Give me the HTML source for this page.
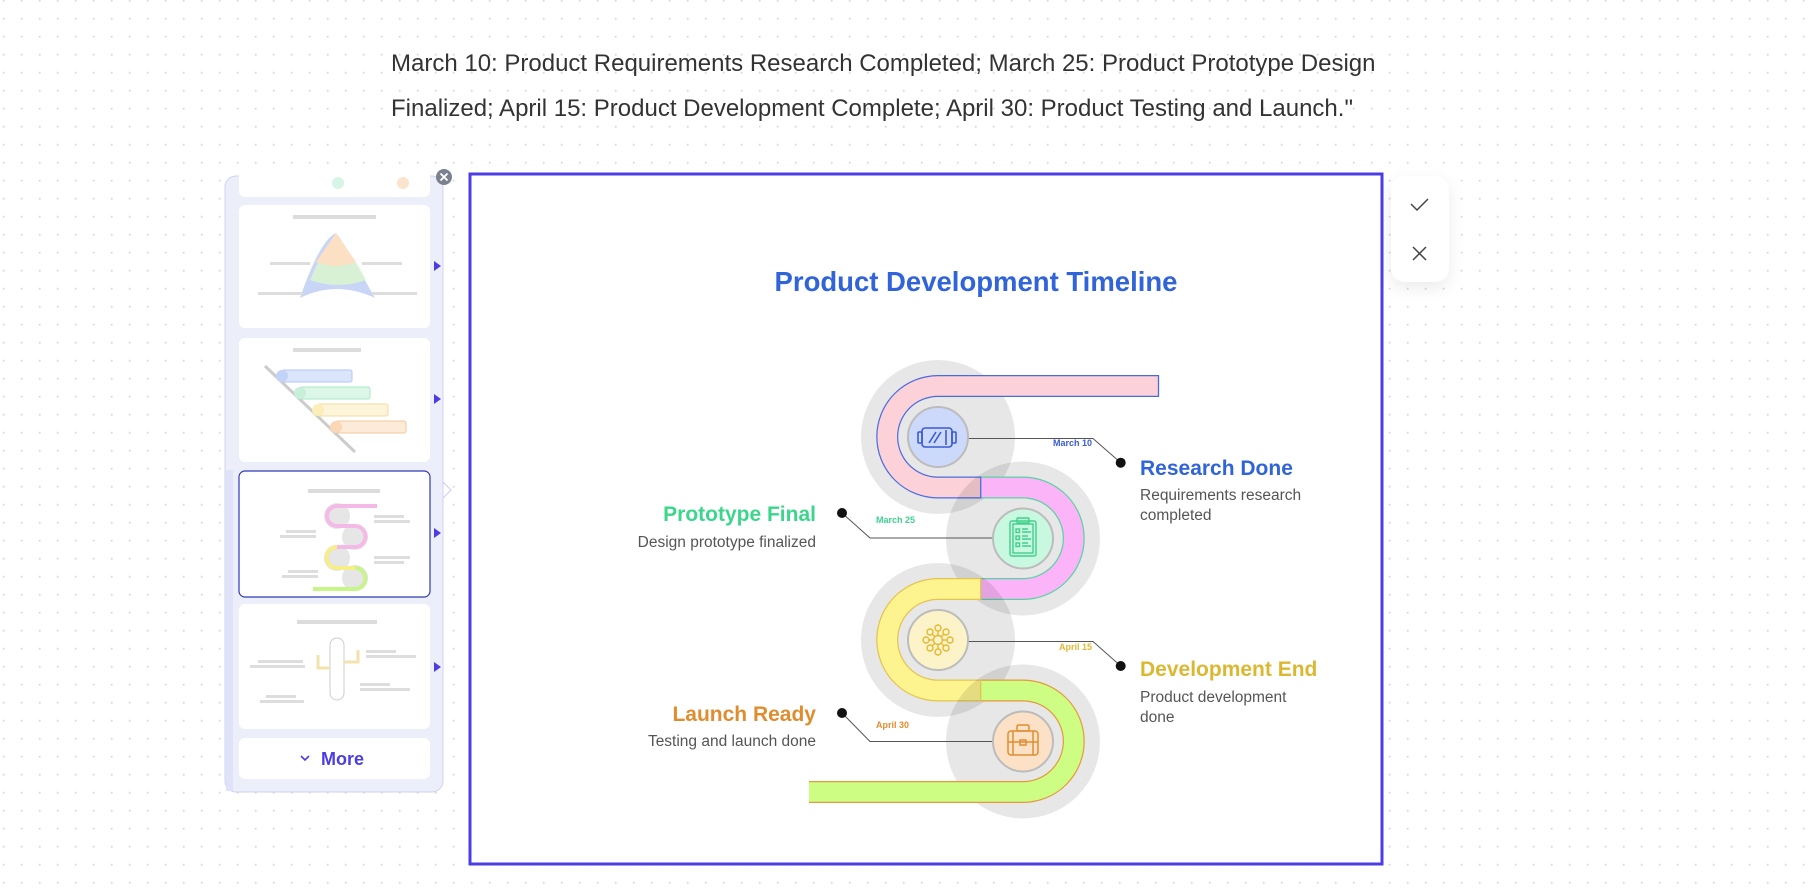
<!DOCTYPE html>
<html><head><meta charset="utf-8">
<style>
html,body{margin:0;padding:0;width:1813px;height:890px;overflow:hidden;background:#fff;font-family:"Liberation Sans",sans-serif;}
.abs{position:absolute;}
</style></head>
<body>
<svg class="abs" style="left:0;top:0" width="1813" height="890" viewBox="0 0 1813 890" xmlns="http://www.w3.org/2000/svg">
<defs>
<pattern id="dots" x="2.7" y="17.7" width="18" height="18" patternUnits="userSpaceOnUse">
<circle cx="1" cy="1" r="1" fill="#d6d6d6"/>
</pattern>
<filter id="sh" x="-50%" y="-50%" width="200%" height="200%"><feDropShadow dx="0" dy="6" stdDeviation="8" flood-color="#000" flood-opacity="0.08"/></filter>
</defs>
<rect width="1813" height="890" fill="url(#dots)"/>

<!-- top text -->
<text x="391" y="71" font-size="24" fill="#333" font-family="Liberation Sans, sans-serif">March 10: Product Requirements Research Completed; March 25: Product Prototype Design</text>
<text x="391" y="116" font-size="24" fill="#333" font-family="Liberation Sans, sans-serif">Finalized; April 15: Product Development Complete; April 30: Product Testing and Launch."</text>

<!-- sidebar -->
<rect x="225" y="176" width="218" height="616" rx="11" fill="#eceefa" stroke="#cfd3f3" stroke-width="1"/>
<rect x="226" y="470" width="7" height="321" fill="#dfe2f8"/>
<rect x="239" y="170" width="191" height="27" rx="6" fill="#fff"/>
<circle cx="338" cy="183" r="6" fill="#d6f5e6"/><circle cx="403" cy="183" r="6" fill="#fbe3cc"/>
<rect x="239" y="205" width="191" height="123" rx="6" fill="#fff"/>
<rect x="293" y="215" width="83" height="4" fill="#dcdcdc"/>
<path d="M300,298 Q336,280 375,298 Q340,236 336,233 Q320,240 300,298Z" fill="#c9d5f7"/>
<path d="M316,262 L336,233 L356,262 Q336,270 316,262Z" fill="#fbe0c4"/>
<path d="M310,280 L318,262 Q336,270 356,262 L366,280 Q338,290 310,280Z" fill="#d9f3cf" opacity=".9"/>
<rect x="270" y="262" width="40" height="3" fill="#ddd"/><rect x="258" y="292" width="45" height="3" fill="#ddd"/>
<rect x="362" y="262" width="40" height="3" fill="#ddd"/><rect x="372" y="292" width="45" height="3" fill="#ddd"/>
<rect x="239" y="338" width="191" height="124" rx="6" fill="#fff"/>
<rect x="293" y="348" width="68" height="4" fill="#dcdcdc"/>
<line x1="265" y1="366" x2="355" y2="452" stroke="#ccc" stroke-width="3"/>
<rect x="282" y="370" width="70" height="12" rx="2" fill="#dce6fb" stroke="#b6c6f3"/>
<rect x="300" y="387" width="70" height="12" rx="2" fill="#dcf7e8" stroke="#a9e8c6"/>
<rect x="318" y="404" width="70" height="12" rx="2" fill="#fdf5d9" stroke="#f2dc9a"/>
<rect x="336" y="421" width="70" height="12" rx="2" fill="#fdebd9" stroke="#f3c79b"/>
<circle cx="282" cy="376" r="6" fill="#c3d2f7"/><circle cx="300" cy="393" r="6" fill="#c7f0da"/><circle cx="318" cy="410" r="6" fill="#fbeeb8"/><circle cx="336" cy="427" r="6" fill="#fad7b5"/>
<rect x="239" y="471" width="191" height="126" rx="6" fill="#fff" stroke="#2f3bb5" stroke-width="1.2"/>
<rect x="308" y="489" width="72" height="4" fill="#dcdcdc"/>
<circle cx="337" cy="516" r="13" fill="#e6e6e6"/><circle cx="355" cy="537" r="13" fill="#e6e6e6"/><circle cx="337" cy="558" r="13" fill="#e6e6e6"/><circle cx="355" cy="578" r="13" fill="#e6e6e6"/>
<path d="M377,506 H337 A10,10 0 0 0 337,526 H355 A10,10 0 0 1 355,547 H337 A10,10 0 0 0 337,568 H355 A10,10 0 0 1 355,589 H313" fill="none" stroke="#f4b9e6" stroke-width="4"/>
<path d="M337,547 A10,10 0 0 0 337,568 H355" fill="none" stroke="#f6ee86" stroke-width="4"/>
<path d="M355,568 A10,10 0 0 1 355,589 H313" fill="none" stroke="#c8f58a" stroke-width="4"/>
<rect x="286" y="530" width="30" height="3" fill="#ddd"/><rect x="280" y="535" width="36" height="3" fill="#ddd"/>
<rect x="374" y="515" width="30" height="3" fill="#ddd"/><rect x="374" y="520" width="36" height="3" fill="#ddd"/>
<rect x="288" y="570" width="30" height="3" fill="#ddd"/><rect x="282" y="575" width="36" height="3" fill="#ddd"/>
<rect x="374" y="556" width="36" height="3" fill="#ddd"/><rect x="374" y="561" width="30" height="3" fill="#ddd"/>
<rect x="239" y="604" width="191" height="125" rx="6" fill="#fff"/>
<rect x="297" y="620" width="80" height="4" fill="#dcdcdc"/>
<rect x="330" y="638" width="14" height="62" rx="7" fill="none" stroke="#ccc"/>
<path d="M330,668 H318 V655 M344,662 H358 V650" fill="none" stroke="#f1e3ad" stroke-width="3"/>
<rect x="258" y="660" width="45" height="3" fill="#ddd"/><rect x="250" y="665" width="55" height="3" fill="#ddd"/>
<rect x="366" y="650" width="30" height="3" fill="#ddd"/><rect x="366" y="655" width="50" height="3" fill="#ddd"/>
<rect x="266" y="695" width="30" height="3" fill="#ddd"/><rect x="260" y="700" width="44" height="3" fill="#ddd"/>
<rect x="360" y="683" width="30" height="3" fill="#ddd"/><rect x="360" y="688" width="50" height="3" fill="#ddd"/>
<rect x="239" y="738" width="191" height="41" rx="6" fill="#fff"/>
<path d="M301,756 l4,4 l4,-4" fill="none" stroke="#4b3de3" stroke-width="1.6"/>
<text x="321" y="765" font-size="18" font-weight="bold" fill="#4b3de3">More</text>
<path d="M434,261 l7,5 l-7,5z M434,394 l7,5 l-7,5z M434,528 l7,5 l-7,5z M434,662 l7,5 l-7,5z" fill="#4b3de3"/>
<path d="M443,482 l8,8 l-8,8" fill="none" stroke="#c9ccf3" stroke-width="1"/>
<circle cx="444" cy="177" r="8" fill="#7c8190"/>
<path d="M440.5,173.5 l7,7 M447.5,173.5 l-7,7" stroke="#fff" stroke-width="1.8"/>

<!-- main frame -->
<rect x="470" y="174" width="912" height="690" fill="#fff" stroke="#4b3de3" stroke-width="3"/>

<!-- accept panel -->
<rect x="1391" y="176" width="58" height="106" rx="14" fill="#fff" filter="url(#sh)"/>
<path d="M1411,204 l6,6 l11,-11" fill="none" stroke="#444" stroke-width="1.5"/>
<path d="M1413,247 l13,13 M1426,247 l-13,13" stroke="#444" stroke-width="1.5"/>

<!-- title -->
<text x="976" y="291" text-anchor="middle" font-size="27.5" font-weight="bold" fill="#3064d8">Product Development Timeline</text>

<!-- serpentine -->
<circle cx="938" cy="437" r="77" fill="rgba(0,0,0,0.095)"/>
<path d="M1159,386 H938 A50.75,50.75 0 0 0 938,487.5 H980.7" fill="none" stroke="#4a6be0" stroke-width="22"/>
<path d="M1159,386 H938 A50.75,50.75 0 0 0 938,487.5 H980.7" fill="none" stroke="#fcd1d8" stroke-width="19.6"/>
<line x1="1158.5" y1="375" x2="1158.5" y2="397" stroke="#4a6be0" stroke-width="1.3"/>
<circle cx="1023" cy="538.5" r="77" fill="rgba(0,0,0,0.095)"/>
<path d="M980.7,487.5 H1023 A50.75,50.75 0 0 1 1023,589 H980.7" fill="none" stroke="#58d2a5" stroke-width="22"/>
<path d="M980.7,487.5 H1023 A50.75,50.75 0 0 1 1023,589 H980.7" fill="none" stroke="#fbb4f8" stroke-width="19.6"/>
<line x1="980.7" y1="476.5" x2="980.7" y2="498.5" stroke="#4a6be0" stroke-width="1.3"/>
<circle cx="938" cy="640" r="77" fill="rgba(0,0,0,0.095)"/>
<path d="M980.7,589 H938 A50.75,50.75 0 0 0 938,690.5 H980.7" fill="none" stroke="#e3c44f" stroke-width="22"/>
<path d="M980.7,589 H938 A50.75,50.75 0 0 0 938,690.5 H980.7" fill="none" stroke="#fdf38f" stroke-width="19.6"/>
<line x1="980.7" y1="578" x2="980.7" y2="600" stroke="#e3c44f" stroke-width="1.3"/>
<circle cx="1023" cy="741.5" r="77" fill="rgba(0,0,0,0.095)"/>
<path d="M980.7,690.5 H1023 A50.75,50.75 0 0 1 1023,792 H809" fill="none" stroke="#e49a3c" stroke-width="22"/>
<path d="M980.7,690.5 H1023 A50.75,50.75 0 0 1 1023,792 H809" fill="none" stroke="#cdfd83" stroke-width="19.6"/>
<line x1="980.7" y1="679.5" x2="980.7" y2="701.5" stroke="#e3c44f" stroke-width="1.3"/>

<!-- connectors -->
<g fill="none" stroke="#555" stroke-width="1">
<path d="M968,438.5 H1093 L1120.7,462.7"/>
<path d="M993,538 H870 L842,513"/>
<path d="M968,641.5 H1093 L1120.7,666"/>
<path d="M993,741.5 H870 L842,713"/>
</g>
<g fill="#111"><circle cx="1120.7" cy="462.7" r="5"/><circle cx="842" cy="513" r="5"/><circle cx="1120.7" cy="666" r="5"/><circle cx="842" cy="713" r="5"/></g>
<g font-size="9" font-weight="bold">
<text x="1092" y="446" text-anchor="end" fill="#3a5bd0">March 10</text>
<text x="876" y="523" fill="#3fd08f">March 25</text>
<text x="1092" y="650" text-anchor="end" fill="#e2b934">April 15</text>
<text x="876" y="728" fill="#e08d30">April 30</text>
</g>

<!-- icon circles -->
<circle cx="938" cy="437" r="30" fill="#cdd9fb" stroke="#bcbcbc" stroke-width="2"/>
<circle cx="1023" cy="538.5" r="30" fill="#c9f8e0" stroke="#bcbcbc" stroke-width="2"/>
<circle cx="938" cy="640" r="30" fill="#fdf3c9" stroke="#bcbcbc" stroke-width="2"/>
<circle cx="1023" cy="741.5" r="30" fill="#fde1c6" stroke="#bcbcbc" stroke-width="2"/>
<g fill="none" stroke="#3a5bd0" stroke-width="1.6">
<rect x="922" y="428" width="30" height="19" rx="3"/><rect x="952" y="432" width="4" height="11" rx="1"/><rect x="918" y="432" width="4" height="11" rx="1"/>
<path d="M929,443 L936,432 M934,443 L941,432 M946,430 V445"/>
</g>
<g fill="none" stroke="#3fcf8a" stroke-width="1.4">
<rect x="1010" y="521" width="26" height="35" rx="2"/><rect x="1013" y="524" width="20" height="29"/><rect x="1017" y="518" width="12" height="5" rx="1"/>
<rect x="1016" y="529" width="3.5" height="3.5"/><rect x="1016" y="536" width="3.5" height="3.5"/><rect x="1016" y="543" width="3.5" height="3.5"/>
<path d="M1022,529 H1028 M1022,532 H1031 M1022,536 H1028 M1022,539 H1031 M1022,543 H1028 M1022,546 H1031"/>
</g>
<g fill="none" stroke="#e2b934" stroke-width="1.4">
<circle cx="938" cy="640" r="4.5"/><circle cx="938" cy="628" r="3"/><circle cx="938" cy="652" r="3"/>
<circle cx="926" cy="640" r="3"/><circle cx="950" cy="640" r="3"/>
<circle cx="930" cy="632" r="3"/><circle cx="946" cy="632" r="3"/><circle cx="930" cy="648" r="3"/><circle cx="946" cy="648" r="3"/>
<path d="M938,631 V635.5 M938,644.5 V649 M929,640 H933.5 M942.5,640 H947 M932,634 L935,637 M944,634 L941,637 M932,646 L935,643 M944,646 L941,643"/>
</g>
<g fill="none" stroke="#e08d30" stroke-width="1.5">
<rect x="1008" y="731" width="30" height="24" rx="3"/><rect x="1017" y="725" width="12" height="6" rx="1.5"/>
<path d="M1008,742 H1038 M1013,731 V755 M1033,731 V755"/><rect x="1020" y="740" width="6" height="5"/>
</g>

<!-- labels -->
<text x="1140" y="475" font-size="21" font-weight="bold" fill="#3064d8">Research Done</text>
<text x="1140" y="500" font-size="15.5" fill="#555">Requirements research</text>
<text x="1140" y="520" font-size="15.5" fill="#555">completed</text>
<text x="816" y="521" text-anchor="end" font-size="21" font-weight="bold" fill="#3bd68b">Prototype Final</text>
<text x="816" y="547" text-anchor="end" font-size="15.5" fill="#555">Design prototype finalized</text>
<text x="1140" y="676" font-size="21" font-weight="bold" fill="#dcb832">Development End</text>
<text x="1140" y="702" font-size="15.5" fill="#555">Product development</text>
<text x="1140" y="722" font-size="15.5" fill="#555">done</text>
<text x="816" y="721" text-anchor="end" font-size="21" font-weight="bold" fill="#e08d30">Launch Ready</text>
<text x="816" y="746" text-anchor="end" font-size="15.5" fill="#555">Testing and launch done</text>
</svg>
</body></html>
